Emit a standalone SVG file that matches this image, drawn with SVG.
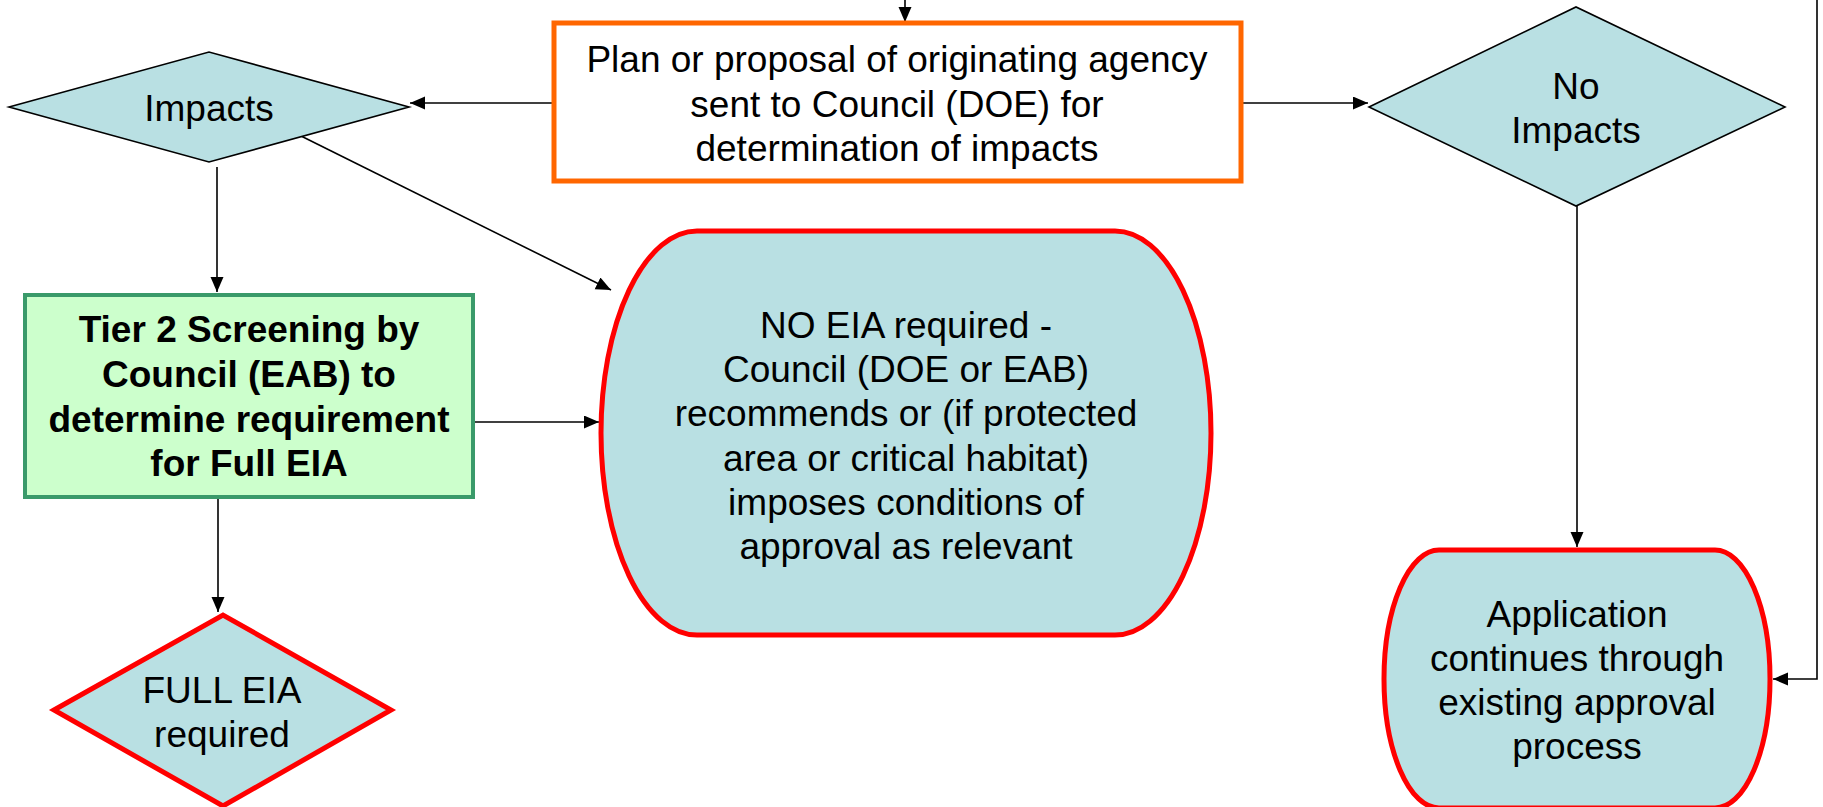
<svg xmlns="http://www.w3.org/2000/svg" width="1823" height="807" viewBox="0 0 1823 807">
<style>
  text { font-family: "Liberation Sans", Arial, sans-serif; font-size: 37px; fill: #000; text-anchor: middle; }
  .bold { font-weight: bold; }
  .conn { stroke: #000; stroke-width: 1.6; fill: none; }
  .dia { fill: #B9E0E3; stroke: #000; stroke-width: 1.6; }
  .term { fill: #B9E0E3; stroke: #FF0000; stroke-width: 5; }
</style>
<defs>
  <marker id="arr" markerUnits="userSpaceOnUse" markerWidth="16" markerHeight="14" refX="15" refY="6.5" orient="auto">
    <path d="M0,0 L15,6.5 L0,13 z" fill="#000"/>
  </marker>
</defs>
<rect width="1823" height="807" fill="#fff"/>

<g id="connectors">
  <line class="conn" x1="905" y1="0" x2="905" y2="22" marker-end="url(#arr)"/>
  <line class="conn" x1="552" y1="103" x2="410" y2="103" marker-end="url(#arr)"/>
  <line class="conn" x1="1243" y1="103" x2="1368" y2="103" marker-end="url(#arr)"/>
  <line class="conn" x1="217" y1="167" x2="217" y2="292" marker-end="url(#arr)"/>
  <line class="conn" x1="297" y1="134" x2="611" y2="290" marker-end="url(#arr)"/>
  <line class="conn" x1="474" y1="422" x2="599" y2="422" marker-end="url(#arr)"/>
  <line class="conn" x1="218" y1="498" x2="218" y2="612" marker-end="url(#arr)"/>
  <line class="conn" x1="1577" y1="206" x2="1577" y2="547" marker-end="url(#arr)"/>
  <polyline class="conn" points="1817,0 1817,679 1773,679" marker-end="url(#arr)"/>
</g>

<g id="plan">
  <rect x="554" y="23" width="687" height="158" fill="#fff" stroke="#FF6600" stroke-width="5"/>
  <text x="897" y="72">Plan or proposal of originating agency</text>
  <text x="897" y="117">sent to Council (DOE) for</text>
  <text x="897" y="161">determination of impacts</text>
</g>

<g id="impacts">
  <polygon class="dia" points="9,107 209,52 409,107 209,162"/>
  <text x="209" y="121">Impacts</text>
</g>

<g id="no-impacts">
  <polygon class="dia" points="1369,107 1576,7 1785,107 1576,206"/>
  <text x="1576" y="99">No</text>
  <text x="1576" y="143">Impacts</text>
</g>

<g id="tier2">
  <rect x="25" y="295" width="448" height="202" fill="#CCFFCC" stroke="#3A9A6A" stroke-width="4"/>
  <text class="bold" x="249" y="342">Tier 2 Screening by</text>
  <text class="bold" x="249" y="387">Council (EAB) to</text>
  <text class="bold" x="249" y="432">determine requirement</text>
  <text class="bold" x="249" y="476">for Full EIA</text>
</g>

<g id="no-eia">
  <rect class="term" x="601" y="231" width="610" height="404" rx="96" ry="202"/>
  <text x="906" y="338">NO EIA required -</text>
  <text x="906" y="382">Council (DOE or EAB)</text>
  <text x="906" y="426">recommends or (if protected</text>
  <text x="906" y="471">area or critical habitat)</text>
  <text x="906" y="515">imposes conditions of</text>
  <text x="906" y="559">approval as relevant</text>
</g>

<g id="full-eia">
  <polygon points="54,710 223,615 391,710 223,806" fill="#B9E0E3" stroke="#FF0000" stroke-width="5"/>
  <text x="222" y="703">FULL EIA</text>
  <text x="222" y="747">required</text>
</g>

<g id="application">
  <rect class="term" x="1384" y="550" width="386" height="258" rx="55" ry="129"/>
  <text x="1577" y="627">Application</text>
  <text x="1577" y="671">continues through</text>
  <text x="1577" y="715">existing approval</text>
  <text x="1577" y="759">process</text>
</g>
</svg>
